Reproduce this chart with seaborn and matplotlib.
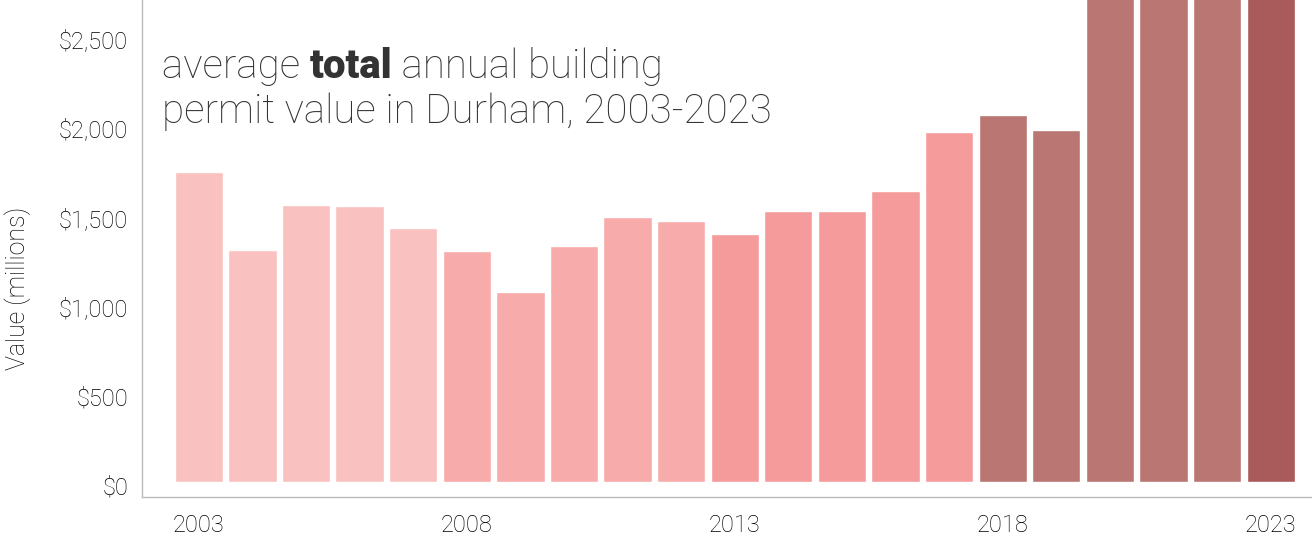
import numpy as np
import pandas as pd
import seaborn as sns
import matplotlib.pyplot as plt
from matplotlib.transforms import ScaledTranslation

years = [str(y) for y in range(2003, 2024)]
values = [1735, 1300, 1552, 1542, 1420, 1290, 1060, 1322, 1480, 1458, 1385,
          1518, 1518, 1625, 1955, 2050, 1967, 2950, 3050, 2900, 3300]
colors = ['#F9C1BF'] * 5 + ['#F7ABAA'] * 5 + ['#F59B9B'] * 5 + ['#B97672'] * 5 + ['#A95A5B']
tick_years = ['2003', '2008', '2013', '2018', '2023']
y_ticks = [0, 500, 1000, 1500, 2000, 2500]

sns.set_style('white')
plt.rcParams['font.family'] = ['Roboto', 'DejaVu Sans']

df = pd.DataFrame({'year': years, 'value': values})
palette = dict(zip(years, colors))

fig = plt.figure(figsize=(13.12, 5.39), dpi=100)
ax = fig.add_axes([142 / 1312, 42 / 539, 1 - 142 / 1312, 497 / 539])
sns.barplot(data=df, x='year', y='value', hue='year', palette=palette, legend=False,
            width=0.9, edgecolor='white', linewidth=1, saturation=1, ax=ax)

txt = '#000000'
ax.set_ylim(-84, 2696)
ax.set_xlim(-1.06, 20.77)
ax.set_yticks(y_ticks)
ax.set_yticklabels([f'${v:,}' for v in y_ticks], fontsize=17, fontweight='light', color=txt)
ax.set_xticks([years.index(y) for y in tick_years])
ax.set_xticklabels(tick_years, fontsize=17, fontweight='light', color=txt)
ax.tick_params(axis='both', length=0)
ax.tick_params(axis='y', pad=10)
ax.tick_params(axis='x', pad=12)
for lab in ax.get_yticklabels():
    lab.set_transform(lab.get_transform() + ScaledTranslation(0, -4 / 100, fig.dpi_scale_trans))
ax.set_xlabel('')
ax.set_ylabel('')
fig.text(18 / 1312, 1 - 288 / 539, 'Value (millions)', rotation=90, ha='center', va='center',
         fontsize=18, fontweight='light', color=txt)

for side in ['top', 'right']:
    ax.spines[side].set_visible(False)
for side in ['left', 'bottom']:
    ax.spines[side].set_color('#BBBBBB')
    ax.spines[side].set_linewidth(1)

# title with a bold word in the middle
fs = 29
tc = '#333333'
x0, y1, y2 = 162 / 1312, 1 - 78 / 539, 1 - 123 / 539
fig.canvas.draw()
r = fig.canvas.get_renderer()
t1 = fig.text(x0, y1, 'average ', fontsize=fs, fontweight='light', color=tc)
w1 = t1.get_window_extent(r).width
t2 = fig.text(x0 + w1 / 1312, y1, 'total', fontsize=fs, fontweight='heavy', color=tc,
              fontstretch='condensed')
w2 = t2.get_window_extent(r).width
fig.text(x0 + (w1 + w2) / 1312, y1, ' annual building', fontsize=fs, fontweight='light', color=tc)
fig.text(x0, y2, 'permit value in Durham, 2003-2023', fontsize=fs, fontweight='light', color=tc)

fig.savefig('out.png', dpi=100)
